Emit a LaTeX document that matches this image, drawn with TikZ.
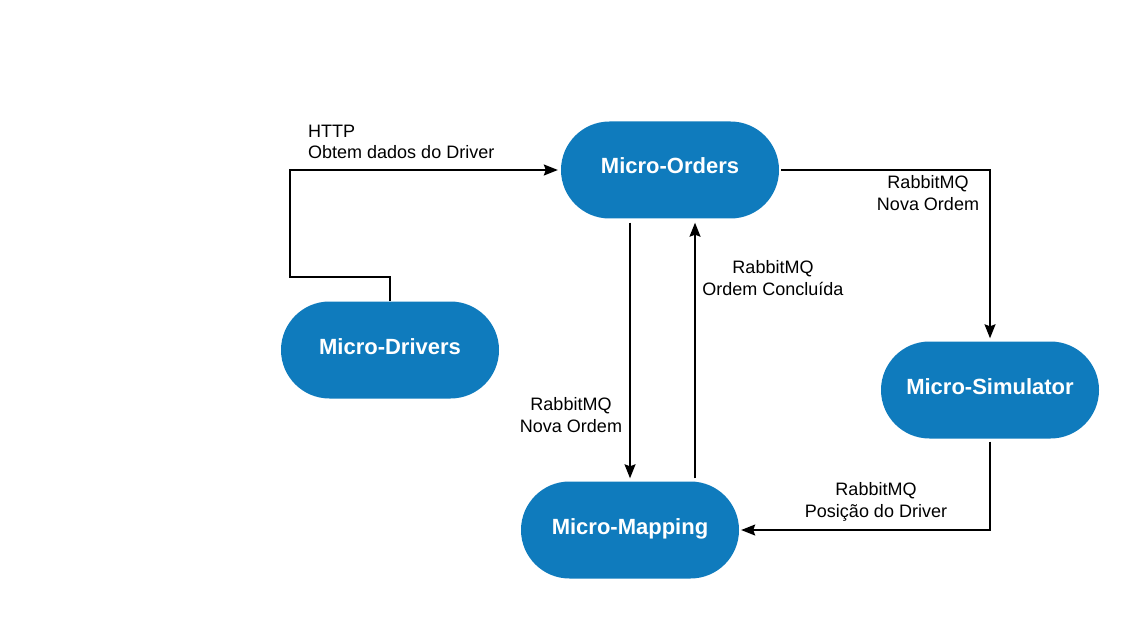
\documentclass[tikz,border=0pt]{standalone}
\usepackage{fontspec}
\setmainfont{Liberation Sans}
\usetikzlibrary{arrows.meta,shapes.misc}
\definecolor{svc}{HTML}{0F7BBD}
\begin{document}
\begin{tikzpicture}[x=1pt,y=-1pt,
  svcbox/.style={rounded rectangle, fill=svc, draw=none, minimum width=218pt, minimum height=97pt, inner sep=0pt, text=white, text height=16pt, text depth=8pt, font=\bfseries\fontsize{22}{24}\selectfont},
  conn/.style={line width=1.5pt, -{Stealth[length=14pt,width=11pt,inset=2pt]}},
  lbl/.style={font=\fontsize{18}{21.5}\selectfont, align=center, inner sep=0pt}]
\useasboundingbox (0,0) rectangle (1140,620);
\node[svcbox] (orders) at (670,170) {Micro-Orders};
\node[svcbox] (drivers) at (390,350) {Micro-Drivers};
\node[svcbox] (sim) at (990,390) {Micro-Simulator};
\node[svcbox] (map) at (630,530) {Micro-Mapping};
\coordinate (d1) at (390,277);
\coordinate (d2) at (290,277);
\coordinate (d3) at (290,170);
\draw[conn, shorten >=3pt] (drivers.north) -- (d1) -- (d2) -- (d3) -- (d3 -| orders.west);
\coordinate (o1) at (990,170);
\draw[conn, shorten >=3pt] (o1 -| orders.east) ++(2,0) -- (o1) -- (sim.north);
\draw[conn, shorten >=3pt, shorten <=4pt] (orders.south -| 630,0) -- (map.north -| 630,0);
\draw[conn, shorten >=4pt, shorten <=3pt] (map.north -| 695,0) -- (orders.south -| 695,0);
\coordinate (s1) at (990,530);
\draw[conn, shorten >=2pt, shorten <=3pt] (sim.south) -- (s1) -- (s1 -| map.east);
\node[lbl, align=left, anchor=west] (l1) at (308,142) {HTTP\\Obtem dados do Driver};
\node[lbl] (l2) at (928,193) {RabbitMQ\\Nova Ordem};
\node[lbl] (l3) at (571,415) {RabbitMQ\\Nova Ordem};
\node[lbl] (l4) at (773,278) {RabbitMQ\\Ordem Concluída};
\node[lbl] (l5) at (876,502) {RabbitMQ\\Posição do Driver};
\end{tikzpicture}
\end{document}
